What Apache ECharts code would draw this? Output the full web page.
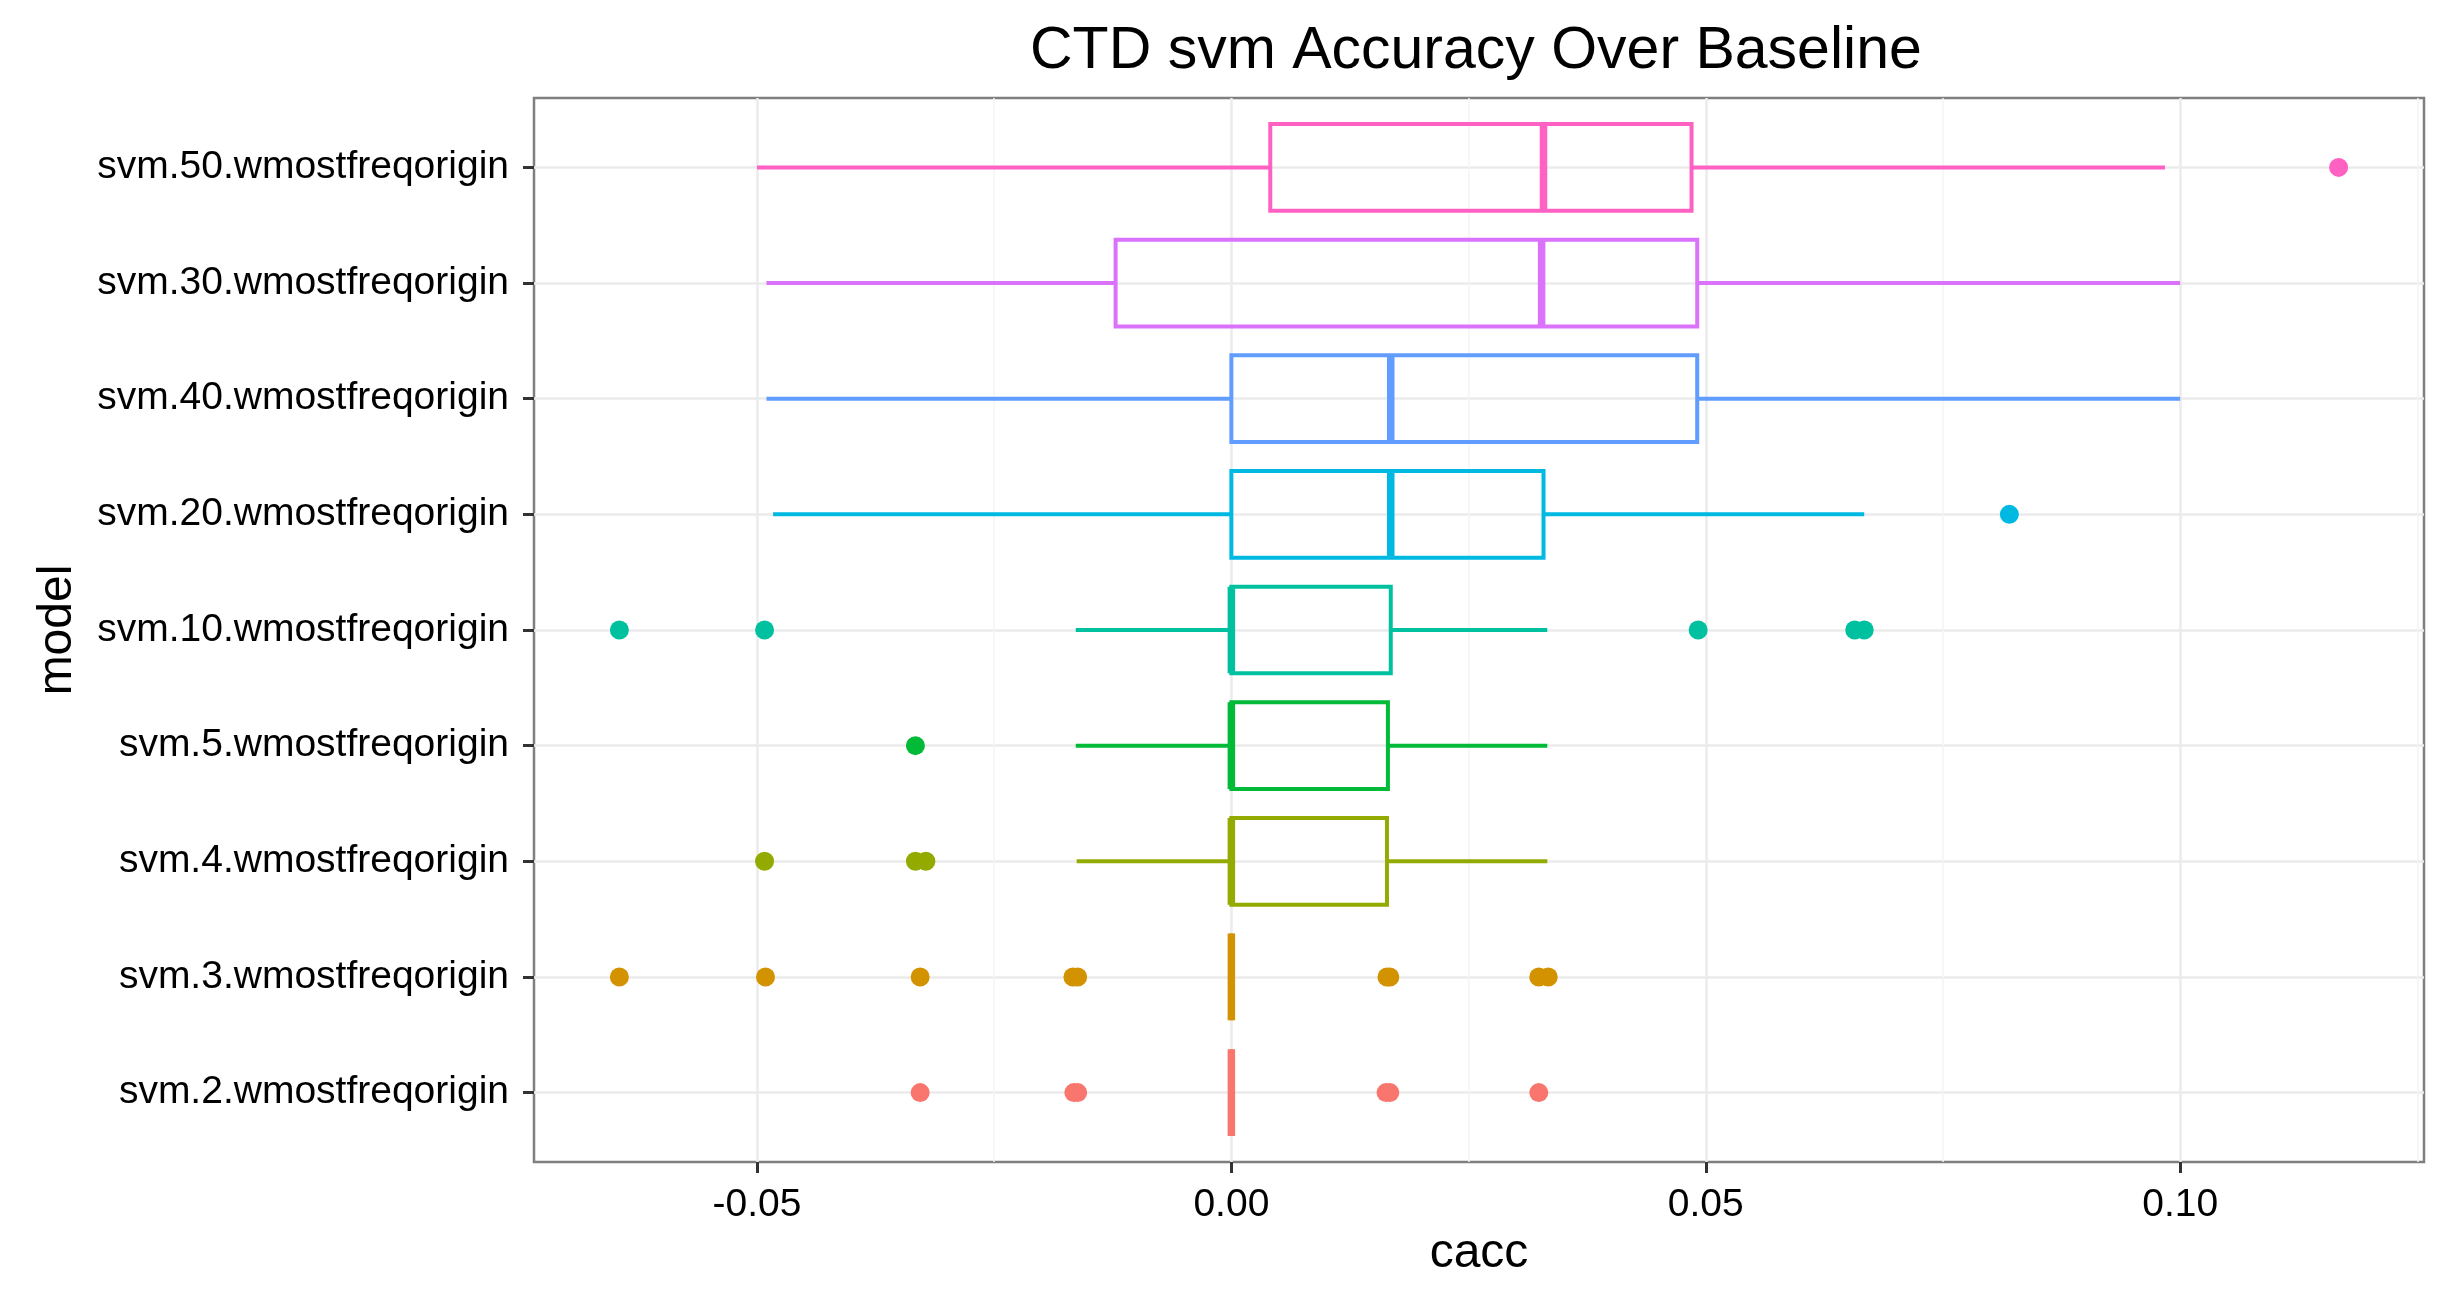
<!DOCTYPE html>
<html lang="en">
<head>
    <meta charset="UTF-8">
    <title>CTD svm Accuracy Over Baseline</title>
    <script src="https://cdn.jsdelivr.net/npm/echarts@6/dist/echarts.min.js"></script>
    <style>
        html, body { margin: 0; padding: 0; background: #fff; }
    </style>
</head>
<body>
<div id="main" style="width: 2450px;height:1308px;"></div>
<script type="text/javascript">
    // models, bottom to top
    var models = [
        'svm.2.wmostfreqorigin', 'svm.3.wmostfreqorigin', 'svm.4.wmostfreqorigin',
        'svm.5.wmostfreqorigin', 'svm.10.wmostfreqorigin', 'svm.20.wmostfreqorigin',
        'svm.40.wmostfreqorigin', 'svm.30.wmostfreqorigin', 'svm.50.wmostfreqorigin'
    ];
    // ggplot hue palette, one per model
    var colors = ['#F8766D', '#D39200', '#93AA00', '#00BA38', '#00C19F',
                  '#00B9E3', '#619CFF', '#DB72FB', '#FF61C3'];

    // box stats
    var whiskerLow  = [0, 0, -0.0163, -0.0164, -0.0164, -0.0483, -0.0490, -0.0490, -0.0500];
    var q1          = [0, 0, 0, 0, 0, 0, 0, -0.0122, 0.0041];
    var median      = [0, 0, 0, 0, 0, 0.0168, 0.0168, 0.0327, 0.0329];
    var q3          = [0, 0, 0.0164, 0.0165, 0.0168, 0.0329, 0.0491, 0.0491, 0.0485];
    var whiskerHigh = [0, 0, 0.0333, 0.0333, 0.0333, 0.0667, 0.1000, 0.1000, 0.0984];

    var outliers = [
        [-0.0328, -0.0166, -0.0162, 0.0163, 0.0167, 0.0324],
        [-0.0645, -0.0491, -0.0328, -0.0167, -0.0162, 0.0164, 0.0167, 0.0324, 0.0334],
        [-0.0492, -0.0333, -0.0322],
        [-0.0333],
        [-0.0645, -0.0492, 0.0492, 0.0657, 0.0667],
        [0.0820],
        [],
        [],
        [0.1167]
    ];

    var xTicks = [-0.05, 0, 0.05, 0.10];
    var xMinorTicks = [-0.025, 0.025, 0.075, 0.125];

    var boxData = models.map(function (m, i) {
        return [i, whiskerLow[i], q1[i], median[i], q3[i], whiskerHigh[i]];
    });
    var pointData = [];
    outliers.forEach(function (list, i) {
        list.forEach(function (v) { pointData.push([v, i]); });
    });
    var rowIdx = models.map(function (m, i) { return i; });

    var font = 'Liberation Sans';

    function renderBox(params, api) {
        var y = api.value(0);
        var lo = api.coord([api.value(1), y]);
        var b1 = api.coord([api.value(2), y]);
        var md = api.coord([api.value(3), y]);
        var b3 = api.coord([api.value(4), y]);
        var hi = api.coord([api.value(5), y]);
        var h = api.size([0, 1])[1] * 0.75;
        var c = colors[params.dataIndex];
        var st = {stroke: c, lineWidth: 4, fill: 'none'};
        return {
            type: 'group',
            children: [
                {type: 'line', shape: {x1: lo[0], y1: lo[1], x2: b1[0], y2: b1[1]}, style: st},
                {type: 'line', shape: {x1: b3[0], y1: b3[1], x2: hi[0], y2: hi[1]}, style: st},
                {type: 'rect', shape: {x: b1[0], y: b1[1] - h / 2, width: b3[0] - b1[0], height: h}, style: st},
                {type: 'line', shape: {x1: md[0], y1: md[1] - h / 2, x2: md[0], y2: md[1] + h / 2},
                 style: {stroke: c, lineWidth: 7.5}}
            ]
        };
    }

    var myChart = echarts.init(document.getElementById('main'));

    var option = {
        backgroundColor: '#ffffff',
        animation: false,
        title: {
            text: 'CTD svm Accuracy Over Baseline',
            left: 1030,
            top: 22,
            padding: 0,
            textStyle: {fontFamily: font, fontSize: 59, fontWeight: 'normal', color: '#000'}
        },
        grid: {
            left: 534, right: 26, top: 98, bottom: 146,
            show: true,
            borderColor: '#7f7f7f',
            borderWidth: 2.5,
            backgroundColor: '#fff'
        },
        xAxis: [
            {
                type: 'value',
                min: -0.0735,
                max: 0.1257,
                name: 'cacc',
                nameLocation: 'middle',
                nameGap: 68,
                nameTextStyle: {fontFamily: font, fontSize: 48, color: '#000'},
                axisLine: {show: false, onZero: false},
                axisTick: {show: true, length: 11, customValues: xTicks,
                           lineStyle: {color: '#333', width: 3}},
                axisLabel: {
                    customValues: xTicks,
                    margin: 24,
                    fontFamily: font, fontSize: 39, color: '#000',
                    formatter: function (v) { return v.toFixed(2); }
                },
                splitLine: {show: true, lineStyle: {color: '#ebebeb', width: 2.5}}
            },
            {
                // minor gridlines only
                type: 'value',
                min: -0.0735,
                max: 0.1257,
                axisLine: {show: false, onZero: false},
                axisTick: {show: false, customValues: xMinorTicks},
                axisLabel: {show: false},
                splitLine: {show: true, lineStyle: {color: '#f5f5f5', width: 1.5}}
            }
        ],
        yAxis: {
            type: 'value',
            min: -0.6,
            max: 8.6,
            name: 'model',
            nameLocation: 'middle',
            nameRotate: 90,
            nameGap: 452,
            nameTextStyle: {fontFamily: font, fontSize: 48, color: '#000'},
            axisLine: {show: false, onZero: false},
            axisTick: {show: true, length: 11, customValues: rowIdx,
                       lineStyle: {color: '#333', width: 3}},
            axisLabel: {
                customValues: rowIdx,
                margin: 25,
                fontFamily: font, fontSize: 39, color: '#000',
                formatter: function (v) { return models[Math.round(v)]; }
            },
            splitLine: {show: true, lineStyle: {color: '#ebebeb', width: 2.5}}
        },
        series: [
            {
                type: 'custom',
                name: 'box',
                xAxisIndex: 0,
                renderItem: renderBox,
                encode: {x: [1, 2, 3, 4, 5], y: 0},
                data: boxData,
                z: 3
            },
            {
                type: 'scatter',
                name: 'outliers',
                xAxisIndex: 0,
                symbol: 'circle',
                symbolSize: 19,
                itemStyle: {
                    opacity: 1,
                    color: function (p) { return colors[p.value[1]]; }
                },
                data: pointData,
                z: 4
            }
        ]
    };

    myChart.setOption(option);
</script>
</body>
</html>
